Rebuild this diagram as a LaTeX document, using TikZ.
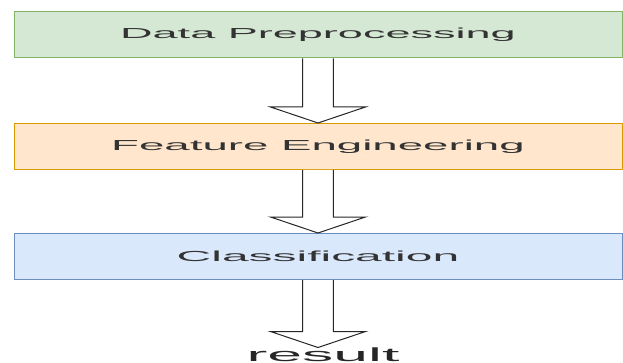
\documentclass[tikz,border=0pt]{standalone}
\usepackage{fontspec}
\usetikzlibrary{calc}
\newfontfamily\labelfont{Liberation Sans}
\definecolor{prepfill}{HTML}{D5E8D4}
\definecolor{prepline}{HTML}{82B366}
\definecolor{featfill}{HTML}{FFE6CC}
\definecolor{featline}{HTML}{D79B00}
\definecolor{classfill}{HTML}{DAE8FC}
\definecolor{classline}{HTML}{6C8EBF}
\def\shaftw{11.6pt}
\def\headw{35.6pt}
\def\headl{12pt}

% labels are set wide, stretched sideways
\newcommand\wide[2][3.1]{\scalebox{#1}[1]{#2}}

% hollow block arrow from the bottom of one stage to the top of the next
\newcommand\stagearrow[2]{%
  \draw[hollow] let \p1=(#1.south), \p2=(#2.north) in
    (\x1-\shaftw,\y1) -- (\x1-\shaftw,\y2+\headl) -- (\x1-\headw,\y2+\headl)
    -- (\x1,\y2) -- (\x1+\headw,\y2+\headl) -- (\x1+\shaftw,\y2+\headl)
    -- (\x1+\shaftw,\y1);
}

\begin{document}
\begin{tikzpicture}[
    x=0.75pt, y=-0.75pt,
    stage/.style={draw, line width=0.75pt, minimum width=456pt,
      minimum height=34.5pt, inner sep=0pt, text=black!80,
      font=\labelfont\fontsize{10.9pt}{13pt}\selectfont},
    hollow/.style={draw=black!85, line width=0.75pt, fill=white},
  ]
  \useasboundingbox (0,0) rectangle (623,363);

  % --- pipeline stages ---------------------------------------------------
  \node[stage, fill=prepfill, draw=prepline] (prep) at (318,35) {\wide{Data Preprocessing}};
  \node[stage, fill=featfill, draw=featline] (feat) at (318,146.5) {\wide[3.14]{Feature Engineering}};
  \node[stage, fill=classfill, draw=classline] (class) at (318,256.5) {\wide[3.3]{Classification}};
  \node[inner sep=0pt, anchor=base, text=black!85,
    font=\labelfont\fontsize{14.2pt}{17pt}\selectfont] (result) at (323,361.5) {\wide[3.3]{result}};

  % --- arrows between stages ----------------------------------------------
  \stagearrow{prep}{feat}
  \stagearrow{feat}{class}
  \stagearrow{class}{result}

\end{tikzpicture}
\end{document}
